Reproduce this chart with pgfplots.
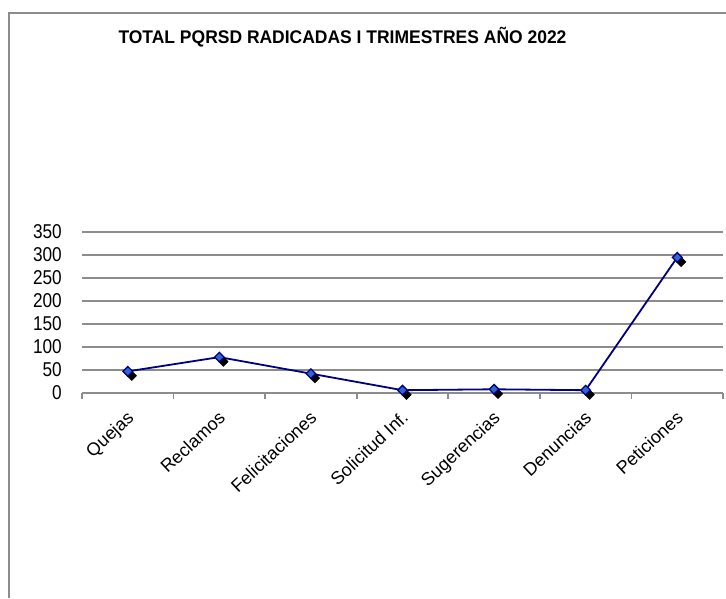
\documentclass[border=0pt]{standalone}
\usepackage{pgfplots}
\pgfplotsset{compat=1.18}
\usepackage{fontspec}
\setmainfont{Liberation Sans}
\newfontfamily\tickfont[FakeStretch=0.86]{Liberation Sans}
\newfontfamily\titlefont[FakeStretch=0.955]{Liberation Sans}
\definecolor{gridgray}{RGB}{140,140,140}
\definecolor{navyline}{RGB}{0,0,128}
\definecolor{markfill}{RGB}{51,102,204}
\begin{document}
\begin{tikzpicture}[x=1pt,y=1pt]
\path[use as bounding box] (0,0) rectangle (726,598);
\draw[gridgray, line width=1.8pt] (9,0) -- (9,585) -- (726,585);
\node[font=\titlefont\bfseries\fontsize{18.3}{20}\selectfont] at (342.5,561) {TOTAL PQRSD RADICADAS I TRIMESTRES AÑO 2022};
\begin{axis}[
  at={(82pt,205.5pt)}, anchor=south west,
  width=641pt, height=160.8pt, scale only axis,
  xmin=-0.5, xmax=6.5, ymin=0, ymax=350,
  axis x line*=bottom, axis y line*=left,
  y axis line style={draw=none},
  x axis line style={gridgray, line width=2pt, -},
  ytick={0,50,...,350},
  ymajorgrids, grid style={gridgray, line width=2pt},
  xtick={0,...,6},
  xticklabels={Quejas,Reclamos,Felicitaciones,Solicitud Inf.,Sugerencias,Denuncias,Peticiones},
  minor xtick={-0.5,0.5,1.5,2.5,3.5,4.5,5.5,6.5},
  major tick length=0pt, minor tick length=6pt,
  tick align=outside,
  minor tick style={gridgray, line width=1.6pt},
  major tick style={draw=none},
  yticklabel style={font=\tickfont\fontsize{20}{22}\selectfont, anchor=east, inner sep=0pt, xshift=-20pt},
  xticklabel style={font=\fontsize{18}{20}\selectfont, anchor=north east, inner sep=0pt, xshift=-2pt, yshift=-17pt, rotate=43},
  /pgf/number format/assume math mode=true,
  clip=false,
]
\addplot[draw=none, only marks, mark=square*, mark size=3.4pt,
  mark options={xshift=4pt, yshift=-4.5pt, rotate=45, fill=black, draw=black}]
  coordinates {(0,46) (1,77) (2,41) (3,5) (4,7) (5,5) (6,294)};
\addplot[navyline, line width=1.8pt, mark=square*, mark size=3.4pt,
  mark options={rotate=45, fill=markfill, draw=navyline, line width=1.3pt}]
  coordinates {(0,46) (1,77) (2,41) (3,5) (4,7) (5,5) (6,294)};
\end{axis}
\end{tikzpicture}
\end{document}
